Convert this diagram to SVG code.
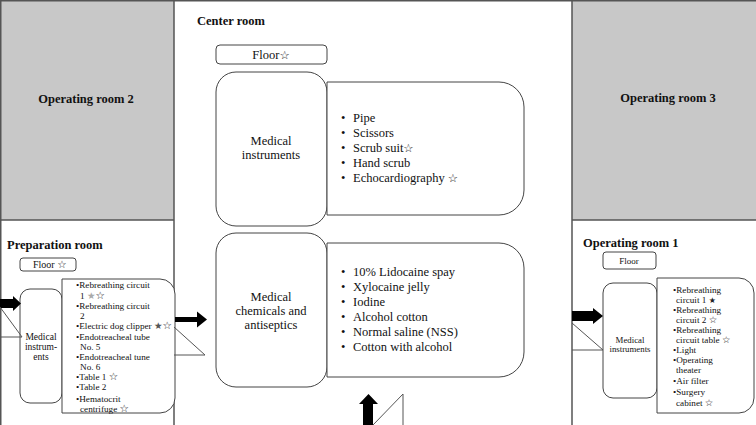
<svg xmlns="http://www.w3.org/2000/svg" width="756" height="425" viewBox="0 0 756 425">
<style>
text{font-family:"Liberation Serif","Times New Roman",serif;fill:#111}
.title{font-weight:bold;font-size:12.5px}
.box{fill:#fff;stroke:#444;stroke-width:1}
.wall{stroke:#555;stroke-width:1.5;fill:none}
.door{stroke:#555;stroke-width:1;fill:none}
.arrow{fill:#000}
.c{font-size:12.5px}
.s{font-size:9.2px}
.st{font-family:"DejaVu Sans",sans-serif;fill:#222}
</style>
<rect x="0" y="0" width="756" height="425" fill="#fff"/>
<g id="operating-room-2">
<rect x="0" y="0" width="174" height="220" fill="#c8c8c8"/>
<text class="title" x="86" y="103" text-anchor="middle">Operating room 2</text>
</g>
<g id="operating-room-3">
<rect x="572" y="0" width="184" height="220" fill="#c8c8c8"/>
<text class="title" x="668" y="102" text-anchor="middle">Operating room 3</text>
</g>
<g id="walls">
<line class="wall" x1="0" y1="0.75" x2="756" y2="0.75"/>
<line class="wall" x1="0.75" y1="0" x2="0.75" y2="425"/>
<line class="wall" x1="174" y1="0" x2="174" y2="425"/>
<line class="wall" x1="572" y1="0" x2="572" y2="425"/>
<line class="wall" x1="0" y1="220" x2="174" y2="220"/>
<line class="wall" x1="572" y1="220" x2="756" y2="220"/>
</g>
<g id="center-room">
<text class="title" x="197" y="25">Center room</text>
<rect class="box" x="216" y="45" width="111" height="19" rx="4"/>
<text class="c" x="271" y="59" font-size="13" text-anchor="middle">Floor<tspan class="st" font-size="11.5">☆</tspan></text>
</g>
<g id="center-medical-instruments">
<rect class="box" x="216" y="72" width="111" height="154" rx="20"/>
<text class="c" x="271" y="145" text-anchor="middle">Medical</text>
<text class="c" x="271" y="159" text-anchor="middle">instruments</text>
</g>
<g id="center-instrument-list">
<path class="box" d="M327,82 H499 A25,25 0 0 1 524,107 V190 A25,25 0 0 1 499,215 H327 Z"/>
<text class="c" x="341" y="122">•</text><text class="c" x="353" y="122">Pipe</text>
<text class="c" x="341" y="137">•</text><text class="c" x="353" y="137">Scissors</text>
<text class="c" x="341" y="152">•</text><text class="c" x="353" y="152">Scrub suit<tspan class="st" font-size="11.5">☆</tspan></text>
<text class="c" x="341" y="167">•</text><text class="c" x="353" y="167">Hand scrub</text>
<text class="c" x="341" y="182">•</text><text class="c" x="353" y="182">Echocardiography <tspan class="st" font-size="11.5">☆</tspan></text>
</g>
<g id="center-chemicals">
<rect class="box" x="216" y="233" width="111" height="154" rx="20"/>
<text class="c" x="271" y="301" text-anchor="middle">Medical</text>
<text class="c" x="271" y="315" text-anchor="middle">chemicals and</text>
<text class="c" x="271" y="329" text-anchor="middle">antiseptics</text>
</g>
<g id="center-chemical-list">
<path class="box" d="M327,243 H499 A25,25 0 0 1 524,268 V352 A25,25 0 0 1 499,377 H327 Z"/>
<text class="c" x="341" y="276">•</text><text class="c" x="353" y="276">10% Lidocaine spay</text>
<text class="c" x="341" y="291">•</text><text class="c" x="353" y="291">Xylocaine jelly</text>
<text class="c" x="341" y="306">•</text><text class="c" x="353" y="306">Iodine</text>
<text class="c" x="341" y="321">•</text><text class="c" x="353" y="321">Alcohol cotton</text>
<text class="c" x="341" y="336">•</text><text class="c" x="353" y="336">Normal saline (NSS)</text>
<text class="c" x="341" y="351">•</text><text class="c" x="353" y="351">Cotton with alcohol</text>
</g>
<g id="preparation-room">
<text class="title" x="7" y="249">Preparation room</text>
<rect class="box" x="20" y="258" width="56" height="13" rx="3"/>
<text x="33" y="268" font-size="10">Floor <tspan class="st" font-size="10.5">☆</tspan></text>
</g>
<g id="prep-medical-instruments">
<rect class="box" x="20" y="289" width="42" height="114" rx="10"/>
<text x="41" y="340" font-size="9.5" text-anchor="middle">Medical</text>
<text x="41" y="350" font-size="9.5" text-anchor="middle">instrum-</text>
<text x="41" y="360" font-size="9.5" text-anchor="middle">ents</text>
</g>
<g id="prep-list">
<path class="box" d="M62,279 H160 A15,15 0 0 1 175,294 V398 A15,15 0 0 1 160,413 H62 Z"/>
<text class="s" x="76" y="288">•Rebreathing  circuit</text>
<text class="s" x="80" y="299">1 <tspan class="st" style="fill:#aaa" font-size="9.5">★</tspan><tspan class="st" font-size="10.5">☆</tspan></text>
<text class="s" x="76" y="309">•Rebreathing  circuit</text>
<text class="s" x="80" y="319">2</text>
<text class="s" x="76" y="329">•Electric dog clipper <tspan class="st" style="fill:#555" font-size="9.5">★</tspan><tspan class="st" font-size="10.5">☆</tspan></text>
<text class="s" x="76" y="340">•Endotreacheal tube</text>
<text class="s" x="80" y="350">No. 5</text>
<text class="s" x="76" y="360">•Endotreacheal tune</text>
<text class="s" x="80" y="370">No. 6</text>
<text class="s" x="76" y="380">•Table 1 <tspan class="st" font-size="10.5">☆</tspan></text>
<text class="s" x="76" y="390">•Table 2</text>
<text class="s" x="76" y="402">•Hematocrit</text>
<text class="s" x="80" y="412">centrifuge  <tspan class="st" font-size="10.5">☆</tspan></text>
</g>
<g id="operating-room-1">
<text class="title" x="583" y="247">Operating room 1</text>
<rect class="box" x="603" y="252" width="53" height="17" rx="3"/>
<text x="629" y="264" font-size="9" text-anchor="middle">Floor</text>
</g>
<g id="or1-medical-instruments">
<rect class="box" x="603" y="283" width="54" height="115" rx="10"/>
<text x="630" y="343" font-size="8.8" text-anchor="middle">Medical</text>
<text x="630" y="352" font-size="8.8" text-anchor="middle">instruments</text>
</g>
<g id="or1-list">
<path class="box" d="M657,278 H739 A15,15 0 0 1 754,293 V398 A15,15 0 0 1 739,413 H657 Z"/>
<text class="s" x="673" y="293">•Rebreathing</text>
<text class="s" x="676" y="303">circuit 1 <tspan class="st" font-size="8">★</tspan></text>
<text class="s" x="673" y="313">•Rebreathing</text>
<text class="s" x="676" y="323">circuit 2 <tspan class="st" font-size="9.5">☆</tspan></text>
<text class="s" x="673" y="333">•Rebreathing</text>
<text class="s" x="676" y="343">circuit table <tspan class="st" font-size="9.5">☆</tspan></text>
<text class="s" x="673" y="353">•Light</text>
<text class="s" x="673" y="363">•Operating</text>
<text class="s" x="676" y="373">theater</text>
<text class="s" x="673" y="384">•Air filter</text>
<text class="s" x="673" y="395">•Surgery</text>
<text class="s" x="676" y="406">cabinet <tspan class="st" font-size="9.5">☆</tspan></text>
</g>
<g id="connectors">
<polygon class="arrow" points="0,299 13,299 13,296 21,303.5 13,311 13,308 0,308"/>
<polyline class="door" points="0,307 22,337 0,337"/>
<polygon class="arrow" points="175,317 197,317 197,311.5 207,319.5 197,327.5 197,322 175,322"/>
<polyline class="door" points="174,327 205,355 174,355"/>
<polygon class="arrow" points="572,311 593,311 593,308 603,316 593,324 593,321 572,321"/>
<polyline class="door" points="572,323 603,350 572,350"/>
<polygon class="arrow" points="363,425 363,404 359,404 368.5,394 378,404 373,404 373,425"/>
<polyline class="door" points="373,425 403,394 403,425"/>
</g>
</svg>
